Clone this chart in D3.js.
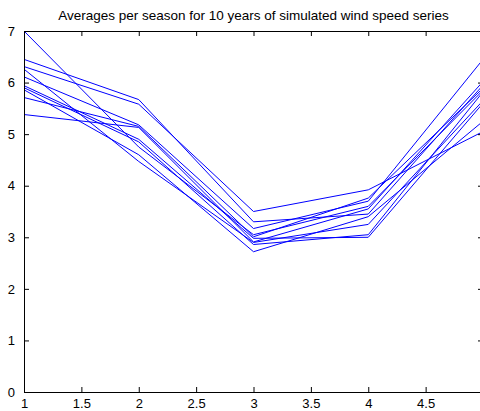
<!DOCTYPE html>
<html>
<head>
<meta charset="utf-8">
<script src="https://cdn.jsdelivr.net/npm/d3@7"></script>
<style>
  body { margin: 0; background: #fff; }
  svg { font-family: "Liberation Sans", Arial, sans-serif; }
</style>
</head>
<body>
<div id="chart"></div>
<script>
// seasons on the x axis
var seasons = [1, 2, 3, 4, 5];

// one row per simulated year: seasonal average wind speed
var year1  = [7.00, 4.75, 3.05, 3.60, 5.85];
var year2  = [6.45, 5.67, 3.30, 3.45, 5.95];
var year3  = [6.31, 5.58, 3.50, 3.92, 5.05];
var year4  = [6.26, 4.47, 2.90, 3.25, 5.65];
var year5  = [6.11, 5.18, 3.17, 3.70, 6.45];
var year6  = [5.94, 4.90, 2.98, 3.00, 5.60];
var year7  = [5.90, 4.85, 2.86, 3.05, 5.82];
var year8  = [5.86, 4.60, 2.72, 3.40, 5.25];
var year9  = [5.71, 5.15, 3.01, 3.76, 5.89];
var year10 = [5.38, 5.13, 2.91, 3.55, 6.02];

var xTicks = [1, 1.5, 2, 2.5, 3, 3.5, 4, 4.5, 5];
var yTicks = [0, 1, 2, 3, 4, 5, 6, 7];

var allYears = [year1, year2, year3, year4, year5, year6, year7, year8, year9, year10];

var width = 480, height = 411;
var margin = {left: 24, top: 31, right: 483, bottom: 392};

var svg = d3.select("#chart").append("svg")
    .attr("width", width)
    .attr("height", height);

var xScale = d3.scaleLinear().domain([1, 5]).range([margin.left, margin.right]);
var yScale = d3.scaleLinear().domain([0, 7]).range([margin.bottom, margin.top]);

/* lines */
var line = d3.line()
    .x((d, i) => xScale(seasons[i]))
    .y(d => yScale(d));

svg.append("g")
    .selectAll("path")
    .data(allYears)
    .join("path")
    .attr("d", line)
    .attr("fill", "none")
    .attr("stroke", "#0000ff")
    .attr("stroke-width", 1);

/* axes box with inward ticks */
function styleAxis(g) {
    g.select(".domain").attr("stroke", "#000").attr("stroke-width", 1);
    g.selectAll(".tick line").attr("stroke", "#000");
    g.selectAll("text").attr("fill", "#000").style("font-size", "13px");
}

// the "5" label falls past the right edge of the window, so it is left out
svg.append("g")
    .attr("transform", `translate(0,${margin.bottom})`)
    .call(d3.axisBottom(xScale).tickValues(xTicks).tickSize(-5).tickSizeOuter(0).tickPadding(7)
        .tickFormat(d => d === 5 ? "" : d3.format("")(d)))
    .call(styleAxis);

svg.append("g")
    .attr("transform", `translate(0,${margin.top})`)
    .call(d3.axisTop(xScale).tickValues(xTicks).tickSize(-5).tickSizeOuter(0).tickFormat(""))
    .call(styleAxis);

svg.append("g")
    .attr("transform", `translate(${margin.left},0)`)
    .call(d3.axisLeft(yScale).tickValues(yTicks).tickSize(-5).tickSizeOuter(0).tickPadding(9)
        .tickFormat(d3.format("d")))
    .call(styleAxis);

svg.append("g")
    .attr("transform", `translate(${margin.right},0)`)
    .call(d3.axisRight(yScale).tickValues(yTicks).tickSize(-5).tickSizeOuter(0).tickFormat(""))
    .call(styleAxis);

/* title */
svg.append("text")
    .attr("x", (margin.left + margin.right) / 2)
    .attr("y", 20)
    .attr("text-anchor", "middle")
    .style("font-size", "13.5px")
    .text("Averages per season for 10 years of simulated wind speed series");
</script>
</body>
</html>
